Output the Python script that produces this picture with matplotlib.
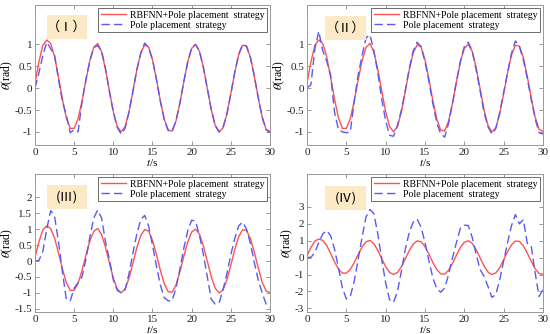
import numpy as np
import matplotlib
matplotlib.use("Agg")
import matplotlib.pyplot as plt
from matplotlib.patches import Rectangle

plt.rcParams["font.family"] = ["Liberation Serif", "DejaVu Serif"]
plt.rcParams["mathtext.fontset"] = "stix"

# ===== Data (0.5 s sampling) =====
t = np.arange(0, 30.01, 0.5)

theta_rbf = [0.12, 0.60, 0.98, 1.10, 1.02, 0.72, 0.25, -0.25, -0.68, -0.92,
             -0.92, -0.70, -0.30, 0.18, 0.63, 0.93, 1.02, 0.83, 0.43, -0.06,
             -0.54, -0.88, -1.00, -0.88, -0.54, -0.07, 0.42, 0.80, 0.99, 0.94,
             0.65, 0.21, -0.29, -0.71, -0.96, -0.98, -0.75, -0.34, 0.15, 0.60,
             0.91, 1.00, 0.84, 0.47, -0.01, -0.49, -0.85, -1.00, -0.91, -0.59,
             -0.13, 0.36, 0.76, 0.98, 0.96, 0.70, 0.27, -0.22, -0.66, -0.94, -0.99]

theta_pole_1 = [0.00, 0.35, 0.75, 1.05, 0.90, 0.75, 0.20, -0.30, -0.62, -1.02,
                -0.95, -1.00, -0.32, 0.20, 0.62, 0.93, 0.97, 0.85, 0.45, -0.08,
                -0.55, -0.90, -1.05, -0.92, -0.55, -0.08, 0.42, 0.80, 1.03, 0.93,
                0.65, 0.20, -0.30, -0.72, -0.97, -0.99, -0.75, -0.34, 0.15, 0.60,
                0.92, 1.00, 0.84, 0.47, -0.01, -0.49, -0.85, -1.00, -0.90, -0.59,
                -0.13, 0.36, 0.77, 1.00, 0.96, 0.70, 0.27, -0.22, -0.66, -0.95, -1.02]

theta_pole_2 = [0.00, 0.08, 0.90, 1.30, 0.85, 0.62, 0.30, -0.55, -0.95, -1.00,
                -1.02, -1.00, -0.30, 0.30, 0.75, 1.15, 1.22, 0.85, 0.35, -0.25,
                -0.75, -1.08, -1.10, -0.85, -0.50, -0.05, 0.45, 0.85, 1.05, 0.95,
                0.60, 0.15, -0.35, -0.80, -1.05, -1.12, -0.80, -0.35, 0.15, 0.62,
                0.95, 1.05, 0.85, 0.42, -0.05, -0.55, -0.88, -1.05, -0.92, -0.55,
                -0.10, 0.35, 0.80, 1.08, 0.95, 0.65, 0.22, -0.25, -0.70, -1.02, -1.05]

theta_pole_3 = [0.00, 0.02, 0.30, 1.00, 1.58, 1.40, 0.60, -0.35, -1.20, -1.25,
                -0.85, -0.68, -0.50, 0.05, 0.75, 1.35, 1.60, 1.35, 0.60, 0.05,
                -0.60, -0.92, -1.00, -0.90, -0.40, 0.25, 0.85, 1.30, 1.43, 1.10,
                0.50, -0.15, -0.75, -1.15, -1.25, -1.25, -0.85, -0.25, 0.40, 0.95,
                1.28, 1.25, 0.80, 0.20, -0.50, -1.20, -1.35, -1.32, -0.90, -0.40,
                0.20, 0.70, 1.10, 1.22, 1.00, 0.55, -0.05, -0.60, -1.00, -1.35, -1.45]

theta_pole_4 = [0.00, 0.02, 0.30, 0.90, 1.40, 1.60, 1.30, 0.50, -0.60, -1.80,
                -2.45, -2.30, -1.40, -0.10, 1.20, 2.40, 2.85, 2.60, 1.40, -0.10,
                -1.50, -2.50, -2.65, -2.00, -0.80, 0.50, 1.50, 2.10, 2.28, 1.80,
                0.90, -0.20, -1.20, -1.85, -2.05, -1.80, -1.00, 0.00, 0.90, 1.75,
                1.92, 1.90, 1.20, 0.20, -0.70, -1.10, -1.70, -2.35, -2.20, -1.30,
                -0.20, 0.90, 1.90, 2.55, 2.00, 2.25, 0.85, 0.70, -0.90, -2.30, -1.90]

pole_series = [theta_pole_1, theta_pole_2, theta_pole_3, theta_pole_4]
panel_tags = ["（Ⅰ）", "（Ⅱ）", "(Ⅲ)", "(Ⅳ)"]
ylims = [(-1.3, 1.9), (-1.3, 1.9), (-1.6, 2.73), (-3.22, 4.95)]
yticks = [[-1, -0.5, 0, 0.5, 1], [-1, -0.5, 0, 0.5, 1],
          [-1.5, -1, -0.5, 0, 0.5, 1, 1.5, 2], [-3, -2, -1, 0, 1, 2, 3]]

# axes rectangles in figure fraction (550 x 334 px)
W, H = 550.0, 334.0
rects = [(35 / W, 189 / H, 235 / W, 140 / H),
         (307 / W, 189 / H, 236 / W, 140 / H),
         (35 / W, 22 / H, 235 / W, 138 / H),
         (307 / W, 22 / H, 236 / W, 138 / H)]
tag_boxes = [(0.051, 0.757, 0.170, 0.172), (0.076, 0.75, 0.173, 0.172),
             (0.050, 0.749, 0.173, 0.169), (0.076, 0.74, 0.173, 0.172)]

fig = plt.figure(figsize=(5.5, 3.34), dpi=100)

for i in range(4):
    ax = fig.add_axes(rects[i])
    ax.plot(t, theta_rbf, color="#ff5252", linewidth=1.0,
            label="RBFNN+Pole placement  strategy")
    ax.plot(t, pole_series[i], color="#5a5af0", linewidth=1.0,
            dashes=(6, 3), label="Pole placement  strategy")
    ax.set_xlim(0, 30)
    ax.set_ylim(*ylims[i])
    ax.set_xticks([0, 5, 10, 15, 20, 25, 30])
    ax.set_yticks(yticks[i])
    ax.set_yticklabels(["%g" % v for v in yticks[i]])
    ax.tick_params(direction="in", top=True, right=True, length=3,
                   width=0.6, color="#888888", labelsize=8, pad=2,
                   labelcolor="#222222")
    for sp in ax.spines.values():
        sp.set_color("#999999")
        sp.set_linewidth(0.7)
    ax.set_xlabel("$t$/s", fontsize=8, labelpad=0)
    ax.set_ylabel(r"$\theta$(rad)", fontsize=8.5, labelpad=0)

    leg = ax.legend(loc="upper right", fontsize=7, handlelength=2.6,
                    handletextpad=0.4, borderpad=0.25, labelspacing=0.1,
                    borderaxespad=0.35, fancybox=False, framealpha=1)
    leg.get_frame().set_edgecolor("#555555")
    leg.get_frame().set_linewidth(0.6)

    bx, by, bw, bh = tag_boxes[i]
    ax.add_patch(Rectangle((bx, by), bw, bh, transform=ax.transAxes,
                           facecolor="#fce9c6", edgecolor="none", zorder=3))
    ax.text(bx + bw / 2, by + bh / 2, panel_tags[i], transform=ax.transAxes,
            ha="center", va="center", fontsize=9.5, zorder=4,
            family=["Noto Sans CJK SC", "DejaVu Sans"])

fig.savefig("out.png", dpi=100)
